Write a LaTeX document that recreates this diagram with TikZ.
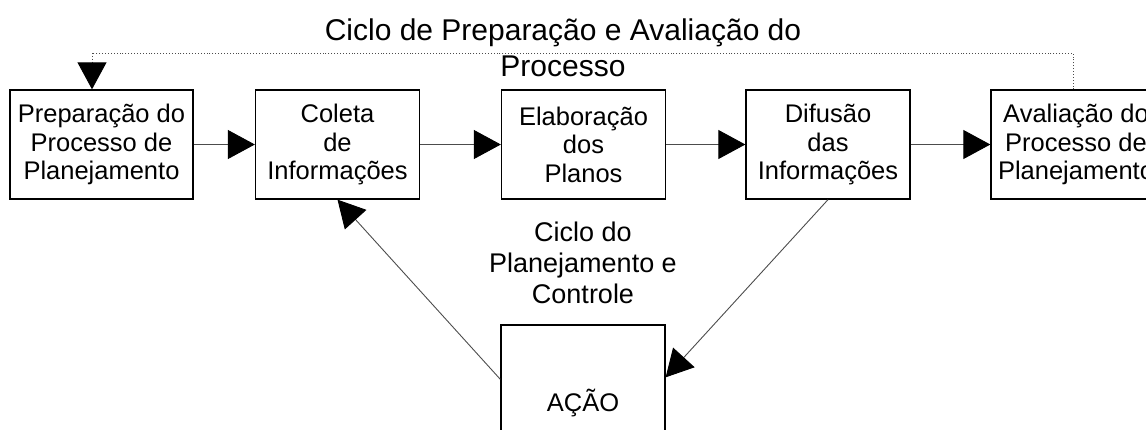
\documentclass[tikz,border=0pt]{standalone}
\usepackage{fontspec}
\setmainfont{Liberation Sans}
\usetikzlibrary{arrows.meta,calc}

\begin{document}
\begin{tikzpicture}[x=1pt,y=-1pt,
  etapa/.style={draw, line width=1.3pt, minimum width=164pt, minimum height=109pt,
    inner sep=0pt, align=center, font=\fontsize{25.5}{28.5}\selectfont},
  seta/.style={draw=black!70, line width=0.9pt, -{Triangle[length=27pt,width=29pt,color=black]}},
  rotulo/.style={align=center}]
\useasboundingbox (0,0) rectangle (1146,429);

\node[etapa, minimum width=183pt] (prep) at (101.5,144.5) {Preparação do\\Processo de\\Planejamento};
\node[etapa] (coleta) at (337.5,144.5) {Coleta\\de\\Informações};
\node[etapa] (elab)   at (583.5,144.5) {Elaboração\\dos\\Planos};
\node[etapa] (difus)  at (828,144.5) {Difusão\\das\\Informações};
\node[etapa, minimum width=170pt] (aval) at (1076,144.5) {Avaliação do\\Processo de\\Planejamento};
\node[etapa, minimum height=156pt] (acao) at (583,403) {AÇÃO};

\node[rotulo, font=\fontsize{30}{36}\selectfont] (titulo) at (563,48) {Ciclo de Preparação e Avaliação do\\Processo};
\node[rotulo, font=\fontsize{27}{31}\selectfont] (ciclo) at (583,263) {Ciclo do\\Planejamento e\\Controle};

% fluxo principal
\draw[seta] (prep) -- (coleta);
\draw[seta] (coleta) -- (elab);
\draw[seta] (elab) -- (difus);
\draw[seta] (difus) -- (aval);

% ciclo de controle
\draw[seta] (difus.south) -- ($(acao.north east)+(0,53)$);
\draw[seta] ($(acao.north west)+(0,55)$) -- (coleta.south);

% retorno pontilhado
\coordinate (ret) at (1073,53);
\draw[dotted, line width=0.9pt, black!70] (aval.north -| ret) -- (ret) -- (92,53) coordinate (ret2);
\draw[seta, dotted] (ret2) -- (prep.north -| ret2);
\end{tikzpicture}
\end{document}
